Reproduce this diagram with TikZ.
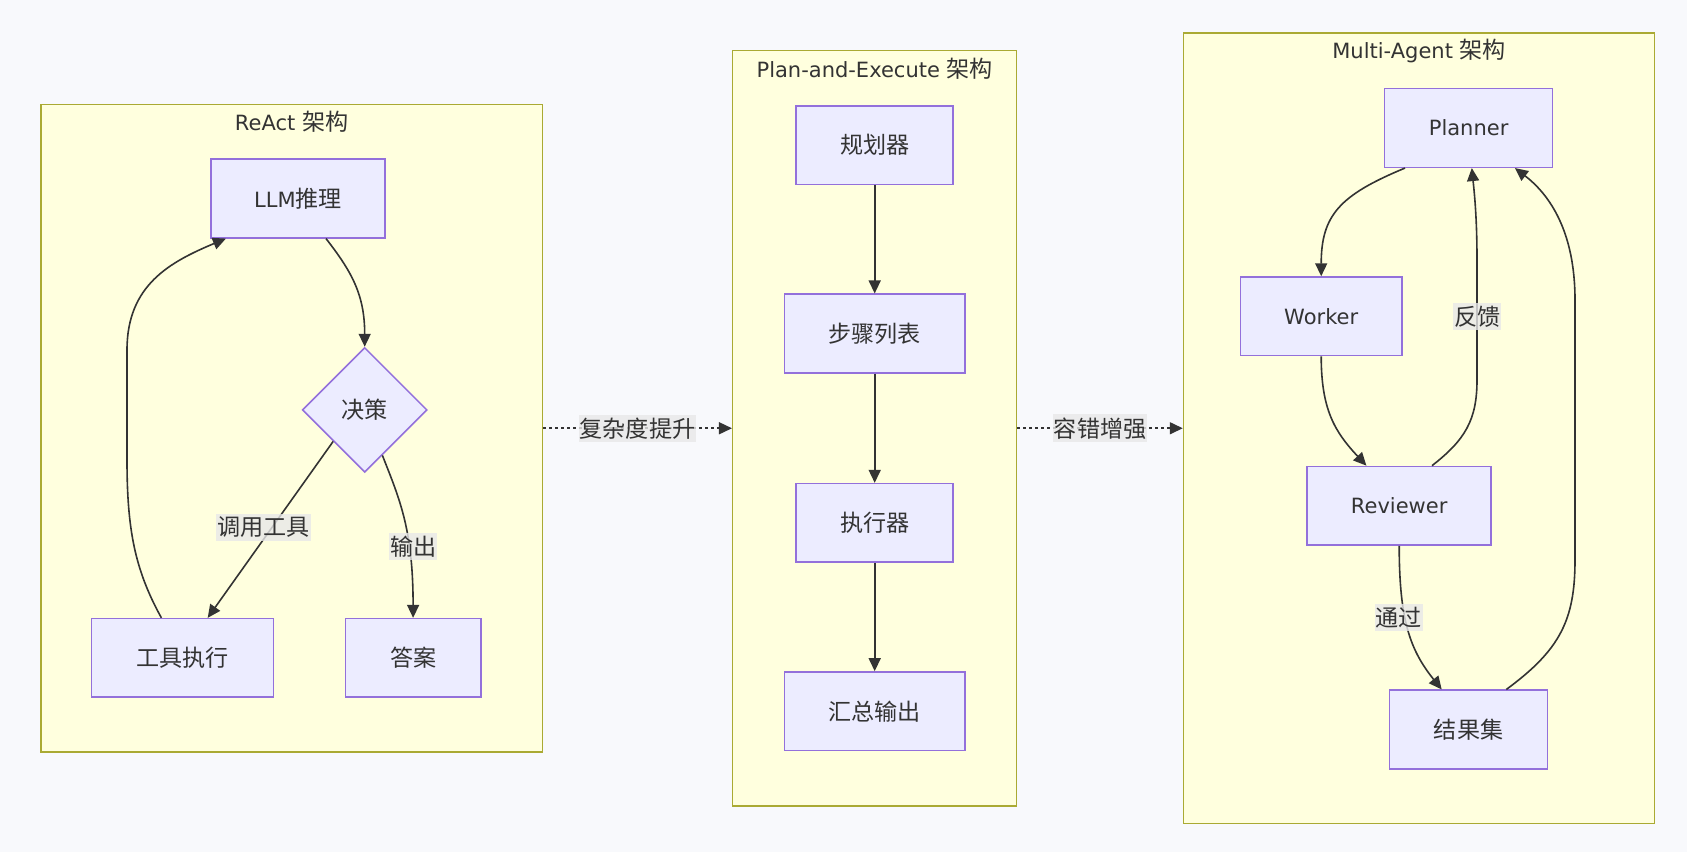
\documentclass[tikz,border=0pt]{standalone}
\usepackage{fontspec}
\setmainfont{DejaVu Sans}
\newfontfamily\cjk[Scale=1.1]{Noto Sans CJK SC}
\usetikzlibrary{arrows.meta,shapes.geometric,calc}
\definecolor{bgcol}{HTML}{F8F9FC}
\definecolor{txt}{HTML}{333333}
\definecolor{nodefill}{HTML}{ECECFF}
\definecolor{nodeborder}{HTML}{9370DB}
\definecolor{clusterfill}{HTML}{FFFFDE}
\definecolor{clusterborder}{HTML}{AAAA33}
\definecolor{edgecol}{HTML}{333333}
\definecolor{labelbg}{HTML}{E8E8E8}
\begin{document}
\begin{tikzpicture}[x=0.5pt,y=-0.5pt,
  every node/.style={text=txt, font=\fontsize{10.5}{13}\selectfont},
  box/.style={draw=nodeborder, fill=nodefill, line width=0.75pt, minimum height=39.3pt, inner sep=0pt},
  decision/.style={diamond, aspect=1, draw=nodeborder, fill=nodefill, line width=0.75pt, minimum width=62.4pt, minimum height=62.4pt, inner sep=0pt},
  cluster/.style={draw=clusterborder, fill=clusterfill, line width=0.75pt, inner sep=0pt},
  ctitle/.style={inner sep=0pt},
  edge/.style={draw=edgecol, line width=0.8pt, -{Triangle[length=6.5pt,width=6pt]}},
  dotedge/.style={edge, dash pattern=on 1.5pt off 1.5pt},
  elabel/.style={fill=labelbg, fill opacity=0.8, text opacity=1, inner xsep=0.5pt, inner ysep=1.5pt},
]
\fill[bgcol] (0,0) rectangle (1687,852);
\useasboundingbox (0,0) rectangle (1687,852);

% clusters
\node[cluster, minimum width=250.7pt, minimum height=323.85pt] (cA) at (291.6,428.25) {};
\node[ctitle] (tA) at (291.6,121.6) {ReAct {\cjk 架构}};
\node[cluster, minimum width=142pt, minimum height=377.65pt] (cB) at (874.7,428.25) {};
\node[ctitle] (tB) at (874.7,68.9) {Plan-and-Execute {\cjk 架构}};
\node[cluster, minimum width=235.6pt, minimum height=395.35pt] (cC) at (1419.1,428.25) {};
\node[ctitle] (tC) at (1419.1,50.6) {Multi-Agent {\cjk 架构}};

% ReAct
\node[box, minimum width=87.2pt] (llm) at (298,198.5) {LLM{\cjk 推理}};
\node[decision] (dec) at (364.7,409.9) {{\cjk 决策}};
\node[box, minimum width=90.9pt] (tool) at (182.4,657.9) {{\cjk 工具执行}};
\node[box, minimum width=67.8pt] (ans) at (413.1,657.9) {{\cjk 答案}};

\draw[edge] ($(llm.south)+(28,0)$) .. controls (352,272) and (364.7,295) .. (dec.north);
\draw[edge] (dec.south west) -- ($(tool.north)+(25.3,0)$);
\draw[edge] ($(dec.south)!0.28!(dec.east)$) .. controls (400,500) and (413.1,530) .. (ans.north);
\draw[edge] ($(tool.north)+(-21,0)$) .. controls (135,570) and (127,530) .. (127,460)
  -- (127,350) .. controls (127,285) and (170,262) .. ($(llm.south)+(-72.1,0)$);
\node[elabel] (l1) at (263.6,527.2) {{\cjk 调用工具}};
\node[elabel] (l2) at (413.1,546.6) {{\cjk 输出}};

% Plan-and-Execute
\node[box, minimum width=78.5pt] (plan) at (874.7,145.2) {{\cjk 规划器}};
\node[box, minimum width=90.4pt] (steps) at (874.7,333.5) {{\cjk 步骤列表}};
\node[box, minimum width=78.5pt] (exec) at (874.7,522.9) {{\cjk 执行器}};
\node[box, minimum width=90.4pt] (sum) at (874.7,711.2) {{\cjk 汇总输出}};
\draw[edge] (plan) -- (steps);
\draw[edge] (steps) -- (exec);
\draw[edge] (exec) -- (sum);

% Multi-Agent
\node[box, minimum width=83.9pt] (planner) at (1468.6,128) {Planner};
\node[box, minimum width=80.7pt] (worker) at (1321.2,316.3) {Worker};
\node[box, minimum width=92pt] (rev) at (1399.2,505.7) {Reviewer};
\node[box, minimum width=79pt] (res) at (1468.6,729.5) {{\cjk 结果集}};

\draw[edge] ($(planner.south)+(-63.6,0)$) .. controls (1340,195) and (1321.2,215) .. (worker.north);
\draw[edge] (worker.south) .. controls (1321.2,410) and (1335,432) .. ($(rev.north)+(-32.8,0)$);
\draw[edge] ($(rev.north)+(32.8,0)$) .. controls (1465,440) and (1477,420) .. (1477,380)
  -- (1477,260) .. controls (1477,215) and (1474,190) .. ($(planner.south)+(3.2,0)$);
\draw[edge] (rev.south) .. controls (1399.2,620) and (1410,650) .. ($(res.north)+(-26.9,0)$);
\draw[edge] ($(res.north)+(37.7,0)$) .. controls (1560,650) and (1575,620) .. (1575,560)
  -- (1575,300) .. controls (1575,232) and (1550,195) .. ($(planner.south)+(46.3,0)$);
\node[elabel] (l3) at (1477.2,316.3) {{\cjk 反馈}};
\node[elabel] (l4) at (1398.7,617.6) {{\cjk 通过}};

% between clusters
\draw[dotedge] (cA.east) -- node[elabel] (l5) {{\cjk 复杂度提升}} (cB.west);
\draw[dotedge] (cB.east) -- node[elabel] (l6) {{\cjk 容错增强}} (cB.east -| cC.west);
\end{tikzpicture}
\end{document}
